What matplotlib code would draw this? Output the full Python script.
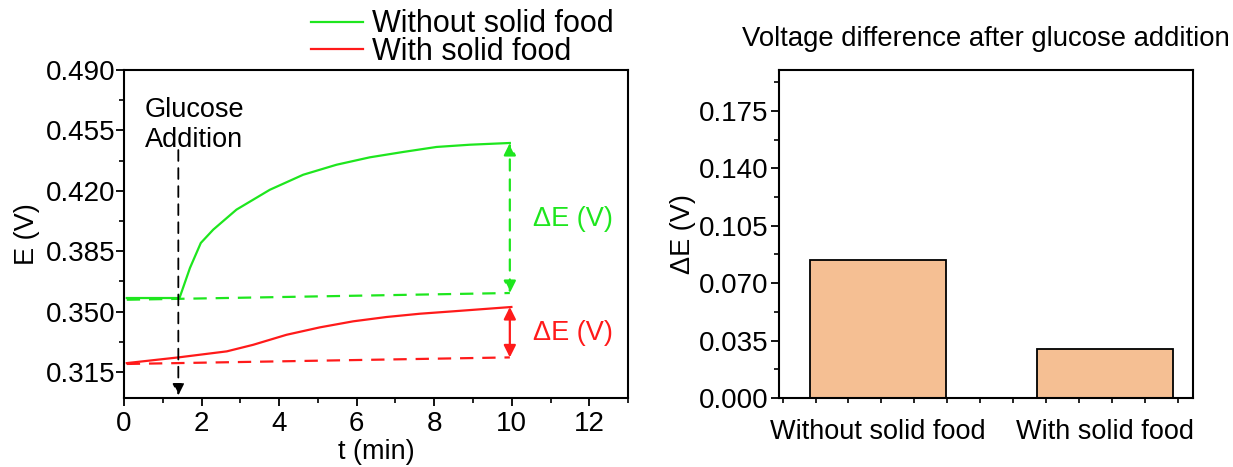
import numpy as np
import matplotlib
matplotlib.use("Agg")
import matplotlib.pyplot as plt
from matplotlib.ticker import MultipleLocator, FixedLocator

plt.rcParams['font.family'] = ['Liberation Sans', 'DejaVu Sans']

# E(t) traces (min, V)
t_without = [0.07, 1.43, 1.70, 1.98, 2.30, 2.90, 3.76, 4.62, 5.48, 6.34, 7.20, 8.06, 8.92, 9.95]
e_without = [0.3579, 0.3579, 0.3753, 0.3898, 0.3975, 0.4091, 0.4206, 0.4293, 0.4351,
             0.4394, 0.4425, 0.4454, 0.4467, 0.4477]
t_with = [0.07, 1.40, 2.65, 3.33, 4.19, 5.05, 5.91, 6.77, 7.63, 8.49, 9.99]
e_with = [0.3202, 0.3235, 0.3270, 0.3308, 0.3366, 0.3409, 0.3444, 0.3469, 0.3488,
          0.3502, 0.3527]

# baselines drawn as dashed lines (start, end)
base_t = [0.07, 9.95]
base_without = [0.3569, 0.3608]
base_with = [0.3197, 0.3235]

glucose_t = 1.4

# bar panel
categories = ['Without solid food', 'With solid food']
delta_e = [0.084, 0.0298]

green = '#1ee61e'
red = '#ff1a1a'

fig = plt.figure(figsize=(12.33, 4.67), dpi=100)
ax1 = fig.add_axes([0.1006, 0.1478, 0.4088, 0.7024])
ax2 = fig.add_axes([0.6318, 0.1478, 0.3358, 0.7024])

ax1.plot(t_without, e_without, color=green, lw=1.6, label='Without solid food')
ax1.plot(t_with, e_with, color=red, lw=1.6, label='With solid food')
ax1.plot(base_t, base_without, color=green, lw=1.6, ls=(0, (6, 4)))
ax1.plot(base_t, base_with, color=red, lw=1.6, ls=(0, (6, 4)))

# glucose addition marker
ax1.annotate('', xy=(glucose_t, 0.3015), xytext=(glucose_t, 0.4436),
             arrowprops=dict(arrowstyle='-|>', color='black', lw=1.3, ls=(0, (6, 4)),
                             mutation_scale=17, shrinkA=0, shrinkB=0))
ax1.text(0.54, 0.4583, 'Glucose\nAddition', fontsize=19.5, ha='left', va='center',
         linespacing=1.2)

# delta-E arrows at the end of the run
ax1.annotate('', xy=(base_t[1], e_without[-1]), xytext=(base_t[1], base_without[1]),
             arrowprops=dict(arrowstyle='<|-|>', color=green, lw=1.6, ls=(0, (5, 4)),
                             mutation_scale=18, shrinkA=0, shrinkB=0))
ax1.annotate('', xy=(base_t[1], e_with[-1]), xytext=(base_t[1], base_with[1]),
             arrowprops=dict(arrowstyle='<|-|>', color=red, lw=1.6,
                             mutation_scale=18, shrinkA=0, shrinkB=0))
ax1.text(10.55, 0.4035, '\u0394E (V)', color=green, fontsize=19.5, va='center')
ax1.text(10.55, 0.3378, '\u0394E (V)', color=red, fontsize=19.5, va='center')

ax1.set_xlim(0, 13)
ax1.set_ylim(0.30, 0.49)
ax1.xaxis.set_major_locator(MultipleLocator(2))
ax1.xaxis.set_minor_locator(MultipleLocator(1))
ax1.yaxis.set_major_locator(FixedLocator([0.315, 0.350, 0.385, 0.420, 0.455, 0.490]))
ax1.yaxis.set_minor_locator(FixedLocator(np.arange(0.3325, 0.49, 0.035)))
ax1.yaxis.set_major_formatter(plt.FormatStrFormatter('%.3f'))
ax1.set_xlabel('t (min)', fontsize=19.5, labelpad=1)
ax1.set_ylabel('E (V)', fontsize=19.5, labelpad=4)

fig.legend(loc='upper left', bbox_to_anchor=(0.230, 1.039), frameon=False,
           fontsize=22, handlelength=1.7, handletextpad=0.28, labelspacing=-0.07)

x = np.arange(1, len(categories) + 1)
ax2.bar(x, delta_e, width=0.595, color='#f5bf93', edgecolor='black', linewidth=1.3)
ax2.set_xlim(0.564, 2.388)
ax2.set_ylim(0, 0.2)
ax2.set_xticks(x)
ax2.set_xticklabels(categories, fontsize=19.5)
ax2.xaxis.set_minor_locator(MultipleLocator(0.145))
ax2.yaxis.set_major_locator(MultipleLocator(0.035))
ax2.yaxis.set_minor_locator(MultipleLocator(0.0175))
ax2.yaxis.set_major_formatter(plt.FormatStrFormatter('%.3f'))
ax2.set_ylabel('\u0394E (V)', fontsize=19.5, labelpad=2)
ax2.set_title('Voltage difference after glucose addition', fontsize=19.8, pad=17)

for ax in (ax1, ax2):
    for s in ax.spines.values():
        s.set_linewidth(1.5)
    ax.tick_params(axis='both', which='major', labelsize=20, length=6, width=1.3,
                   direction='out')
    ax.tick_params(axis='both', which='minor', length=3.5, width=1.2, direction='out')
ax1.tick_params(axis='y', which='major', pad=0.5)
ax2.tick_params(axis='y', which='major', pad=1.5)
ax2.tick_params(axis='x', which='major', length=0, labelsize=19.5, pad=15)

fig.savefig('out.png', dpi=100)
